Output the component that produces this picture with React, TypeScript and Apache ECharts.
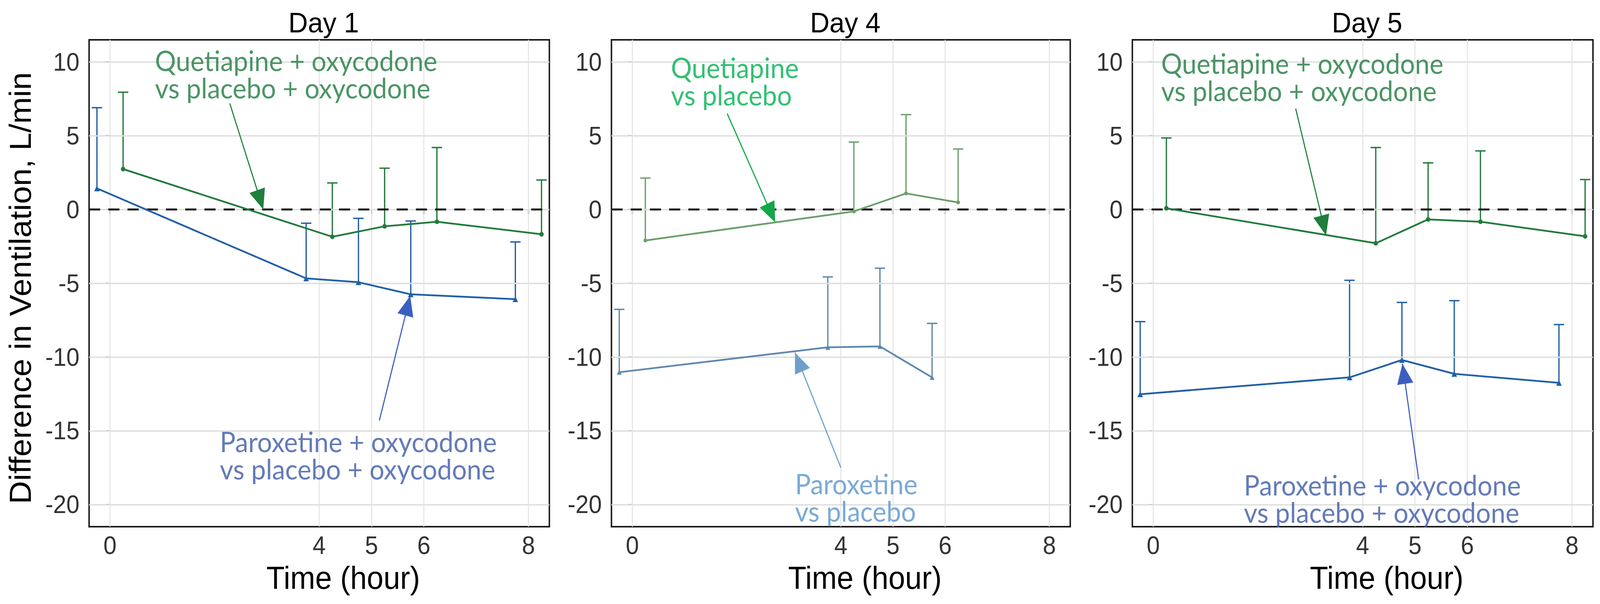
import React, { useEffect, useRef } from 'react';
import * as echarts from 'echarts';

const W = 4328;
const H = 1547;

// ---- ticks ----
const X_TICKS = [0, 4, 5, 6, 8];
const Y_TICKS = [-20, -15, -10, -5, 0, 5, 10];

// ---- times (hours, dodged) ----
const T_PAROX = [-0.25, 3.75, 4.75, 5.75, 7.75];
const T_QUET = [0.25, 4.25, 5.25, 6.25, 8.25];
const T_PAROX_D4 = [-0.25, 3.75, 4.75, 5.75];
const T_QUET_D4 = [0.25, 4.25, 5.25, 6.25];

// ---- Day 1 ----
const day1QuetMean = [2.74, -1.85, -1.14, -0.83, -1.68];
const day1QuetUpper = [7.95, 1.8, 2.8, 4.2, 2.0];
const day1ParoxMean = [1.43, -4.67, -4.93, -5.75, -6.08];
const day1ParoxUpper = [6.9, -0.93, -0.6, -0.78, -2.2];

// ---- Day 4 ----
const day4QuetMean = [-2.1, -0.13, 1.09, 0.48];
const day4QuetUpper = [2.13, 4.57, 6.43, 4.1];
const day4ParoxMean = [-11.03, -9.34, -9.28, -11.38];
const day4ParoxUpper = [-6.77, -4.57, -3.98, -7.72];

// ---- Day 5 ----
const day5QuetMean = [0.08, -2.29, -0.67, -0.83, -1.82];
const day5QuetUpper = [4.85, 4.2, 3.16, 3.97, 2.03];
const day5ParoxMean = [-12.52, -11.38, -10.2, -11.14, -11.75];
const day5ParoxUpper = [-7.6, -4.8, -6.3, -6.18, -7.8];

// ---- annotation labels ----
const QUET_OXY_LABEL = 'Quetiapine + oxycodone\nvs placebo + oxycodone';
const PAROX_OXY_LABEL = 'Paroxetine + oxycodone\nvs placebo + oxycodone';
const QUET_LABEL = 'Quetiapine\nvs placebo';
const PAROX_LABEL = 'Paroxetine\nvs placebo';

// annotation anchors [time, value] (left edge, vertical middle)
const day1QuetText = [0.86, 9.18];
const day1ParoxText = [2.1, -16.66];
const day4QuetText = [0.74, 8.7];
const day4ParoxText = [3.12, -19.5];
const day5QuetText = [0.15, 8.99];
const day5ParoxText = [1.73, -19.6];

// arrows [from, to]
const day1QuetArrow = [[2.29, 7.19], [2.93, 0.0]];
const day1ParoxArrow = [[5.15, -14.3], [5.74, -5.85]];
const day4QuetArrow = [[1.82, 6.5], [2.74, -0.87]];
const day4ParoxArrow = [[4.0, -17.5], [3.12, -9.7]];
const day5QuetArrow = [[2.72, 6.84], [3.3, -1.75]];
const day5ParoxArrow = [[5.07, -18.3], [4.76, -10.45]];

const DAY_TITLES = ['Day 1', 'Day 4', 'Day 5'];

const zip2 = (a: number[], b: number[]) => a.map((v, i) => [v, b[i]]);
const zip3 = (a: number[], b: number[], c: number[]) => a.map((v, i) => [v, b[i], c[i]]);

const SANS = '"Liberation Sans", Arial, sans-serif';
const ANNOT = 'Lato, "Noto Sans", sans-serif';

const PANEL_TOP = 102;
const PANEL_H = 1247;

const panels = [
  {
    left: 241, width: 1245,
    groups: [
      { t: T_QUET, mean: day1QuetMean, upper: day1QuetUpper, line: '#237b3d', symbol: 'circle', size: 12 },
      { t: T_PAROX, mean: day1ParoxMean, upper: day1ParoxUpper, line: '#2160a6', symbol: 'triangle', size: 15 },
    ],
    texts: [
      { pos: day1QuetText, text: QUET_OXY_LABEL, color: '#1e7b3e' },
      { pos: day1ParoxText, text: PAROX_OXY_LABEL, color: '#3d5aa6' },
    ],
    arrows: [
      { seg: day1QuetArrow, head: '#1f7f3d' },
      { seg: day1ParoxArrow, head: '#3b5fc0' },
    ],
  },
  {
    left: 1654, width: 1241,
    groups: [
      { t: T_QUET_D4, mean: day4QuetMean, upper: day4QuetUpper, line: '#6c9f6c', symbol: 'circle', size: 10 },
      { t: T_PAROX_D4, mean: day4ParoxMean, upper: day4ParoxUpper, line: '#5f88ad', symbol: 'triangle', size: 13 },
    ],
    texts: [
      { pos: day4QuetText, text: QUET_LABEL, color: '#00b04f' },
      { pos: day4ParoxText, text: PAROX_LABEL, color: '#5b95cc' },
    ],
    arrows: [
      { seg: day4QuetArrow, head: '#11a848' },
      { seg: day4ParoxArrow, head: '#6fa0cc' },
    ],
  },
  {
    left: 3063, width: 1246,
    groups: [
      { t: T_QUET, mean: day5QuetMean, upper: day5QuetUpper, line: '#237b3d', symbol: 'circle', size: 12 },
      { t: T_PAROX, mean: day5ParoxMean, upper: day5ParoxUpper, line: '#2160a6', symbol: 'triangle', size: 15 },
    ],
    texts: [
      { pos: day5QuetText, text: QUET_OXY_LABEL, color: '#1e7b3e' },
      { pos: day5ParoxText, text: PAROX_OXY_LABEL, color: '#3d5aa6' },
    ],
    arrows: [
      { seg: day5QuetArrow, head: '#1f7f3d' },
      { seg: day5ParoxArrow, head: '#3b5fc0' },
    ],
  },
];

function buildOption() {
  const grid: any[] = [];
  const xAxis: any[] = [];
  const yAxis: any[] = [];
  const series: any[] = [];
  const graphic: any[] = [];

  panels.forEach((p, i) => {
    grid.push({
      left: p.left, top: PANEL_TOP, width: p.width, height: PANEL_H,
      show: true, borderColor: '#1a1a1a', borderWidth: 4, backgroundColor: 'rgba(0,0,0,0)',
    });
    xAxis.push({
      type: 'value', gridIndex: i, min: -0.4, max: 8.4,
      axisLine: { show: false }, splitLine: { show: false },
      axisTick: { show: true, length: 12, lineStyle: { color: '#333', width: 3 }, customValues: X_TICKS },
      axisLabel: { customValues: X_TICKS, margin: 16, fontSize: 64, color: '#333', fontFamily: SANS },
    });
    yAxis.push({
      type: 'value', gridIndex: i, min: -21.5, max: 11.5,
      axisLine: { show: false }, splitLine: { show: false },
      axisTick: { show: true, length: 12, lineStyle: { color: '#333', width: 3 }, customValues: Y_TICKS },
      axisLabel: { customValues: Y_TICKS, margin: 26, fontSize: 64, color: '#333', fontFamily: SANS },
    });

    // grid lines
    series.push({
      type: 'line', xAxisIndex: i, yAxisIndex: i, data: [], silent: true, z: 1,
      markLine: {
        silent: true, symbol: ['none', 'none'], label: { show: false }, animation: false,
        emphasis: { disabled: true },
        lineStyle: { color: '#dedede', width: 3.5, type: 'solid' },
        data: [
          ...Y_TICKS.map((v) => ({ yAxis: v })),
          ...X_TICKS.map((v) => ({ xAxis: v, lineStyle: { color: '#e2e2e2', width: 2.5, type: 'solid' } })),
        ],
      },
    });
    // zero reference line
    series.push({
      type: 'line', xAxisIndex: i, yAxisIndex: i, data: [], silent: true, z: 2,
      markLine: {
        silent: true, symbol: ['none', 'none'], label: { show: false }, animation: false,
        emphasis: { disabled: true },
        lineStyle: { color: '#111', width: 5, type: [30, 22] },
        data: [{ yAxis: 0 }],
      },
    });

    p.groups.forEach((g) => {
      const color = g.line;
      series.push({
        type: 'custom', xAxisIndex: i, yAxisIndex: i, silent: true, z: 4,
        data: zip3(g.t, g.mean, g.upper),
        encode: { x: 0, y: 1 },
        renderItem: (_params: any, api: any) => {
          const x = api.value(0);
          const p0 = api.coord([x, api.value(1)]);
          const p1 = api.coord([x, api.value(2)]);
          return {
            type: 'group',
            children: [
              { type: 'line', shape: { x1: p0[0], y1: p0[1], x2: p1[0], y2: p1[1] }, style: { stroke: color, lineWidth: 3.5 } },
              { type: 'line', shape: { x1: p1[0] - 14, y1: p1[1], x2: p1[0] + 14, y2: p1[1] }, style: { stroke: color, lineWidth: 3.5 } },
            ],
          };
        },
      });
      series.push({
        type: 'line', xAxisIndex: i, yAxisIndex: i, silent: true, z: 5,
        data: zip2(g.t, g.mean),
        lineStyle: { color, width: 4.5 },
        itemStyle: { color },
        symbol: g.symbol, symbolSize: g.size, showSymbol: true,
      });
    });

    p.arrows.forEach((a) => {
      series.push({
        type: 'line', xAxisIndex: i, yAxisIndex: i, data: [], silent: true, z: 6,
        markLine: {
          silent: true, animation: false, label: { show: false },
          emphasis: { disabled: true },
          symbol: ['none', 'triangle'], symbolSize: [44, 52], symbolOffset: [[0, 0], [0, 26]],
          lineStyle: { color: a.head, width: 3, type: 'solid' },
          data: [[{ coord: a.seg[0] }, { coord: a.seg[1] }]],
        },
      });
    });

    p.texts.forEach((tx) => {
      series.push({
        type: 'scatter', xAxisIndex: i, yAxisIndex: i, silent: true, z: 7,
        data: [tx.pos], symbolSize: 0,
        label: {
          show: true, position: 'right', distance: 0, formatter: tx.text,
          color: tx.color, fontFamily: ANNOT, fontSize: 71, lineHeight: 70, align: 'left',
        },
      });
    });

    const cx = p.left + p.width / 2;
    graphic.push({
      type: 'text', x: cx + 12, y: 58,
      style: { text: DAY_TITLES[i], fill: '#000', fontSize: 73, fontFamily: SANS, align: 'center', verticalAlign: 'middle' },
    });
    graphic.push({
      type: 'text', x: cx + 65, y: 1480,
      style: { text: 'Time (hour)', fill: '#000', fontSize: 81, fontFamily: SANS, align: 'center', verticalAlign: 'middle' },
    });
  });

  graphic.push({
    type: 'text', x: 55, y: 738, rotation: Math.PI / 2,
    style: { text: 'Difference in Ventilation, L/min', fill: '#000', fontSize: 82, fontFamily: SANS, align: 'center', verticalAlign: 'middle' },
  });

  return {
    animation: false,
    backgroundColor: '#ffffff',
    grid, xAxis, yAxis, series, graphic,
  };
}

function fitScale(): [number, number] {
  if (typeof window === 'undefined') return [1, 1];
  const sx = window.innerWidth / W;
  const sy = window.innerHeight / H;
  const ok = (v: number) => (v > 0 && isFinite(v) ? v : 1);
  return [ok(sx), ok(sy)];
}

export default function App() {
  const ref = useRef<HTMLDivElement>(null);
  const [sx, sy] = fitScale();
  useEffect(() => {
    document.body.style.margin = '0';
    document.body.style.overflow = 'hidden';
    document.documentElement.style.overflow = 'hidden';
    const chart = echarts.init(ref.current as HTMLDivElement, null, { renderer: 'svg', width: W, height: H });
    chart.setOption(buildOption());
    return () => chart.dispose();
  }, []);
  return (
    <div
      style={{
        position: 'absolute', left: 0, top: 0, width: W, height: H,
        transform: `scale(${sx}, ${sy})`, transformOrigin: '0 0', background: '#fff',
      }}
    >
      <div ref={ref} style={{ width: W, height: H }} />
    </div>
  );
}
